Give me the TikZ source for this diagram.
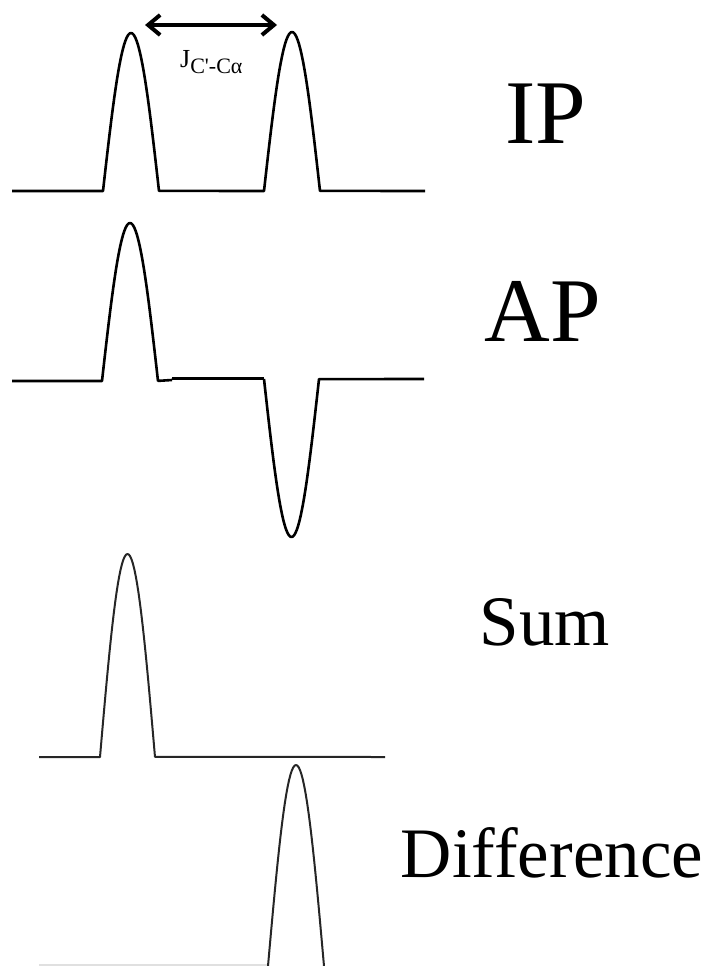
\documentclass[tikz,border=0pt]{standalone}
\usepackage{fontspec}
\setmainfont{Liberation Serif}
\usetikzlibrary{arrows.meta}
\tikzset{
  trace/.style={line width=2.6pt, line join=round, black},
  thintrace/.style={line width=2pt, line join=round, black!85},
  faint/.style={line width=1.2pt, black!12},
  bigl/.style={font=\fontsize{91}{91}\selectfont, inner sep=0pt, anchor=base},
  midl/.style={font=\fontsize{71}{71}\selectfont, inner sep=0pt, anchor=base},
  jarrow/.style={line width=4pt, {Straight Barb[length=12pt,width=20pt]}-{Straight Barb[length=12pt,width=20pt]}}
}
\begin{document}
\begin{tikzpicture}[x=1pt, y=-1pt]
\useasboundingbox (0,0) rectangle (715,966);

% IP
\draw[trace] (12,191) -- (103,191)
  -- plot[domain=-1:1, samples=41] ({131+28*\x},{191-158*cos(90*\x)})
  -- (264,191)
  -- plot[domain=-1:1, samples=41] ({292+28*\x},{191-159*cos(90*\x)})
  -- (425,191);

% AP
\draw[trace] (12,381) -- (102,381)
  -- plot[domain=-1:1, samples=41] ({130+28*\x},{381-158*cos(90*\x)})
  -- (172,380);
\draw[trace, line width=3.6pt] (172,378.5) -- (264,378.5);
\draw[trace] (264,379)
  -- plot[domain=-1:1, samples=41] ({291.5+27.5*\x},{379+158*cos(90*\x)})
  -- (424,379);

% Sum
\draw[thintrace] (39,757) -- (100,757)
  -- plot[domain=-1:1, samples=41] ({127.5+27.5*\x},{757-203*cos(90*\x)})
  -- (385,757);

% Difference
\draw[faint] (39,965) -- (268,965);
\draw[thintrace] plot[domain=-1:1, samples=41] ({296+28*\x},{966-201*cos(90*\x)});

% coupling arrow
\coordinate (jl) at (145,25);
\coordinate (jr) at (277,25);
\draw[jarrow] (jl) -- (jr);
\node[anchor=base west, inner sep=0pt] (jlab) at (180,67)
  {\fontsize{26}{26}\selectfont J\raisebox{-6pt}{\fontsize{22}{22}\selectfont C\textquotesingle-Cα}};

% labels
\node[bigl] (ip) at (546,143) {IP};
\node[bigl] (ap) at (543,341) {AP};
\node[midl] (sum) at (545,645) {Sum};
\node[midl] (diff) at (552,877) {Difference};
\end{tikzpicture}
\end{document}
